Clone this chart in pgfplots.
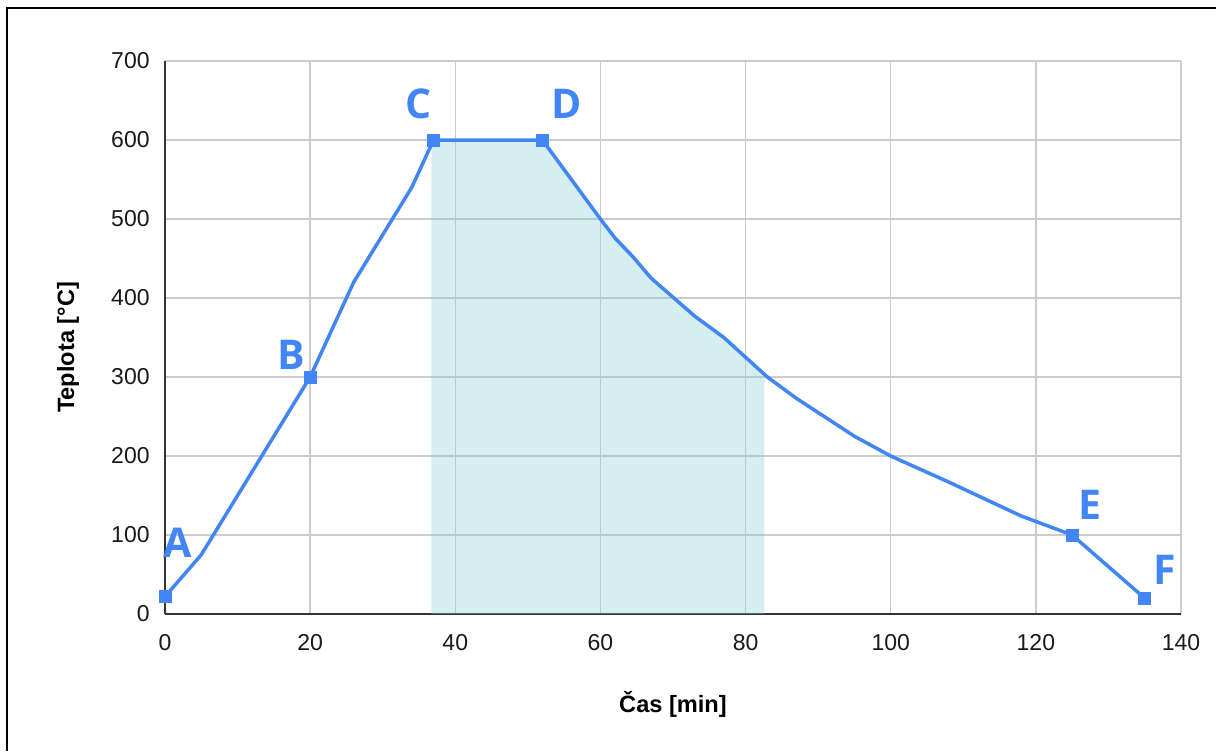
\documentclass[border=0pt]{standalone}
\usepackage{fontspec}
\setmainfont{Liberation Sans}
\newfontfamily\labelfont{Open Sans}
\usepackage{pgfplots}
\pgfplotsset{compat=1.18}
\definecolor{gblue}{HTML}{4285F4}
\definecolor{shade}{RGB}{135,206,218}
\definecolor{gridc}{HTML}{CCCCCC}
\begin{document}
\begin{tikzpicture}
\path[use as bounding box] (0,0) rectangle (608pt,375.5pt);
\draw[line width=1pt, black] (3.5pt,0) -- (3.5pt,371.5pt) -- (608pt,371.5pt);
\begin{axis}[
  at={(82.5pt,68.5pt)}, anchor=south west,
  scale only axis, width=508pt, height=276.5pt,
  xmin=0, xmax=140, ymin=0, ymax=700,
  xtick={0,20,...,140}, ytick={0,100,...,700},
  grid=major, major grid style={gridc, line width=0.75pt},
  major tick length=0pt,
  axis x line*=bottom, axis y line*=left,
  axis line style={-, line width=0.9pt, color=black!80},
  /pgf/number format/assume math mode=true,
  tick label style={font=\fontsize{11.5}{13}\selectfont, text=black!90},
  xticklabel style={anchor=north, inner sep=0pt, yshift=-10pt},
  yticklabel style={anchor=east, inner sep=0pt, xshift=-7.5pt},
  xlabel={\textbf{Čas [min]}},
  ylabel={\textbf{Teplota [°C]}},
  label style={font=\fontsize{11.8}{13}\selectfont},
  xlabel style={at={(axis description cs:0.5,-0.163)}, anchor=center},
  ylabel style={at={(axis description cs:-0.0955,0.482)}, anchor=center},
  clip=false,
]
% shaded region
\addplot[draw=none, fill=shade, fill opacity=0.35] coordinates {
  (36.7,0) (36.7,600) (37,600) (52,600) (60,500) (62,476) (64.5,452) (67,425)
  (73,377) (77,350) (80,325) (82.6,302) (82.6,0)
} -- cycle;
% curve
\addplot[gblue, line width=1.75pt, line join=round] coordinates {
  (0,22) (5,75) (20,300) (26,420) (34,540) (37,600) (52,600) (60,500)
  (62,476) (64.5,452) (67,425) (73,377) (77,350) (80,325) (83,300)
  (87,273) (95,225) (100,200) (108,167) (118,124) (125,100) (135,20)
};
% key points
\addplot[only marks, mark=square*, mark size=3pt, gblue] coordinates {
  (0,22) (20,300) (37,600) (52,600) (125,100) (135,20)
};
\begin{scope}[every node/.style={text=gblue, font=\labelfont\fontsize{20.5}{22}\selectfont\bfseries}]
\node at (axis cs:1.8,90) {A};
\node at (axis cs:17.4,328) {B};
\node at (axis cs:34.9,646) {C};
\node at (axis cs:55.3,646) {D};
\node at (axis cs:127.5,138) {E};
\node at (axis cs:137.8,56) {F};
\end{scope}
\end{axis}
\end{tikzpicture}
\end{document}
